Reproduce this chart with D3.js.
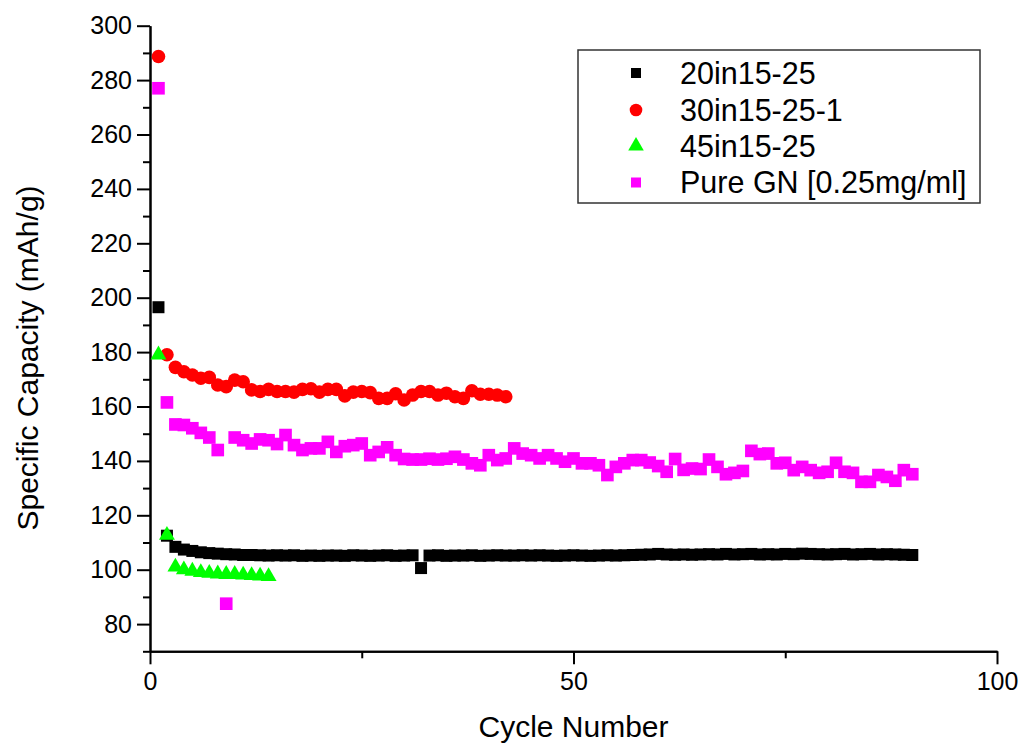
<!DOCTYPE html>
<html>
<head>
<meta charset="utf-8">
<script src="https://cdn.jsdelivr.net/npm/d3@7"></script>
<style>
  body { margin: 0; background: #fff; }
  text { font-family: "Liberation Sans", Arial, sans-serif; fill: #000; }
</style>
</head>
<body>
<div id="main"></div>
<script>

// series values, one per cycle starting at cycle 1
var s20 = [196.5, 112.5, 108.4, 107.4, 106.9, 106.4, 106.1, 105.9, 105.7, 105.6,
  105.4, 105.4, 105.3, 105.2, 105.3, 105.2, 105.3, 105.1, 105.2, 105.1,
  105.2, 105.2, 105.1, 105.3, 105.2, 105.1, 105.2, 105.3, 105.1, 105.2,
  105.3, 100.6, 105.2, 105.3, 105.1, 105.2, 105.2, 105.3, 105.1, 105.2,
  105.3, 105.2, 105.2, 105.3, 105.2, 105.3, 105.2, 105.1, 105.2, 105.3,
  105.2, 105.1, 105.2, 105.3, 105.2, 105.3, 105.4, 105.5, 105.6, 105.8,
  105.6, 105.5, 105.6, 105.5, 105.6, 105.7, 105.6, 105.8, 105.6, 105.7,
  105.8, 105.6, 105.7, 105.6, 105.8, 105.7, 105.9, 105.8, 105.7, 105.6,
  105.7, 105.8, 105.6, 105.7, 105.8, 105.6, 105.7, 105.6, 105.5, 105.4]

var s30 = [288.7, 179, 174.4, 172.8, 171.6, 170.4, 170.7, 167.9, 167.3, 169.7,
  169.1, 166.1, 165.5, 166.3, 165.5, 165.5, 165.3, 166.3, 166.5, 165.3,
  166.3, 166.3, 163.9, 165.3, 165.5, 165.1, 163, 163, 164.7, 162.4,
  164.2, 165.5, 165.5, 164.2, 164.9, 163.6, 163, 165.8, 164.5, 164.5,
  164.2, 163.6]

var s45 = [179, 112.7, 101, 100, 99.5, 99, 98.7, 98.5, 98.3, 98.3, 98.1, 97.9, 97.7, 97.5]

var sGN = [277, 161.5, 153.4, 153.2, 152, 150.3, 148.6, 144, 87.5, 148.6,
  147.6, 146.4, 147.9, 147.6, 146.2, 149.5, 145.8, 144, 144.6, 144.6,
  147, 143.3, 145.4, 145.8, 146.4, 142.1, 143.3, 145, 142.1, 140.7,
  140.5, 140.5, 140.8, 140.5, 140.8, 141.5, 140.5, 139.1, 138.4, 142.1,
  140.3, 140.9, 144.6, 142.7, 142.1, 140.9, 142.1, 140.9, 139.7, 140.9,
  139.1, 139.1, 138.4, 134.8, 137.8, 139.1, 140.3, 140.3, 139.4, 138.1,
  136, 140.7, 136.7, 137.2, 137, 140.5, 137.8, 135.1, 135.6, 136.3,
  143.7, 142.5, 142.7, 139.1, 139.3, 136.6, 137.8, 136.6, 135.6, 136,
  139.3, 136, 135.6, 132.3, 132.3, 134.8, 134.1, 132.7, 136.6, 135.1]

var seriesNames = ["20in15-25", "30in15-25-1", "45in15-25", "Pure GN [0.25mg/ml]"]
var xMajor = [0, 50, 100]
var xMinor = [25, 75]
var yMajor = [80, 100, 120, 140, 160, 180, 200, 220, 240, 260, 280, 300]
var yMinor = [70, 90, 110, 130, 150, 170, 190, 210, 230, 250, 270, 290]

var W = 1023, H = 748
var margin = { top: 25.7, left: 150, right: 26, bottom: 96.7 }
var w = W - margin.left - margin.right,
    h = H - margin.top - margin.bottom

var svg = d3.select("#main").append("svg")
  .attr("width", W)
  .attr("height", H)

var g = svg.append("g")
  .attr("transform", "translate(" + margin.left + "," + margin.top + ")")

var x = d3.scaleLinear().domain([0, 100]).range([0, w])
var y = d3.scaleLinear().domain([70, 300]).range([h, 0])

// axes: major ticks with labels, minor ticks without
function styleAxis(sel) {
  sel.select(".domain").attr("stroke", "#000").attr("stroke-width", 2)
  sel.selectAll(".tick line").attr("stroke", "#000").attr("stroke-width", 2)
  sel.selectAll(".tick text").style("font-size", "25px")
    .style("font-family", "'Liberation Sans', Arial, sans-serif")
}

g.append("g")
  .attr("transform", "translate(0," + h + ")")
  .call(d3.axisBottom(x).tickValues(xMinor).tickSize(7).tickSizeOuter(0).tickFormat(""))
  .call(styleAxis)

g.append("g")
  .attr("transform", "translate(0," + h + ")")
  .call(d3.axisBottom(x).tickValues(xMajor).tickSize(13).tickSizeOuter(0).tickPadding(8).tickFormat(d3.format("d")))
  .call(styleAxis)

g.append("g")
  .call(d3.axisLeft(y).tickValues(yMinor).tickSize(7).tickSizeOuter(0).tickFormat(""))
  .call(styleAxis)

g.append("g")
  .call(d3.axisLeft(y).tickValues(yMajor).tickSize(13).tickSizeOuter(0).tickPadding(5).tickFormat(d3.format("d")))
  .call(styleAxis)

// axis titles
svg.append("text")
  .attr("x", margin.left + x(50))
  .attr("y", 737)
  .attr("text-anchor", "middle")
  .style("font-size", "30px")
  .text("Cycle Number")

svg.append("text")
  .attr("transform", "translate(38,358) rotate(-90)")
  .attr("text-anchor", "middle")
  .style("font-size", "30px")
  .text("Specific Capacity (mAh/g)")

// markers
var series = [
  { name: seriesNames[0], values: s20, color: "#000000", type: d3.symbolSquare, size: 144, legSize: 100 },
  { name: seriesNames[1], values: s30, color: "#ff0000", type: d3.symbolCircle, size: 145, legSize: 125 },
  { name: seriesNames[2], values: s45, color: "#00ff00", type: d3.symbolTriangle, size: 110, legSize: 105 },
  { name: seriesNames[3], values: sGN, color: "#ff00ff", type: d3.symbolSquare, size: 160, legSize: 100 }
]

series.forEach(function(s) {
  g.append("g")
    .selectAll("path")
    .data(s.values)
    .enter()
    .append("path")
    .attr("d", d3.symbol().type(s.type).size(s.size))
    .attr("transform", function(d, i) { return "translate(" + x(i + 1) + "," + y(d) + ")" })
    .attr("fill", s.color)
})

// legend
var legend = svg.append("g")
legend.append("rect")
  .attr("x", 578).attr("y", 50)
  .attr("width", 402).attr("height", 153)
  .attr("fill", "#fff")
  .attr("stroke", "#333")
  .attr("stroke-width", 1.5)

var rowBase = [83.5, 120.5, 156.5, 193]
series.forEach(function(s, i) {
  legend.append("path")
    .attr("d", d3.symbol().type(s.type).size(s.legSize))
    .attr("transform", "translate(636," + (rowBase[i] - 10.5) + ")")
    .attr("fill", s.color)
  legend.append("text")
    .attr("x", 680)
    .attr("y", rowBase[i])
    .style("font-size", "30.5px")
    .text(s.name)
})

</script>
</body>
</html>
